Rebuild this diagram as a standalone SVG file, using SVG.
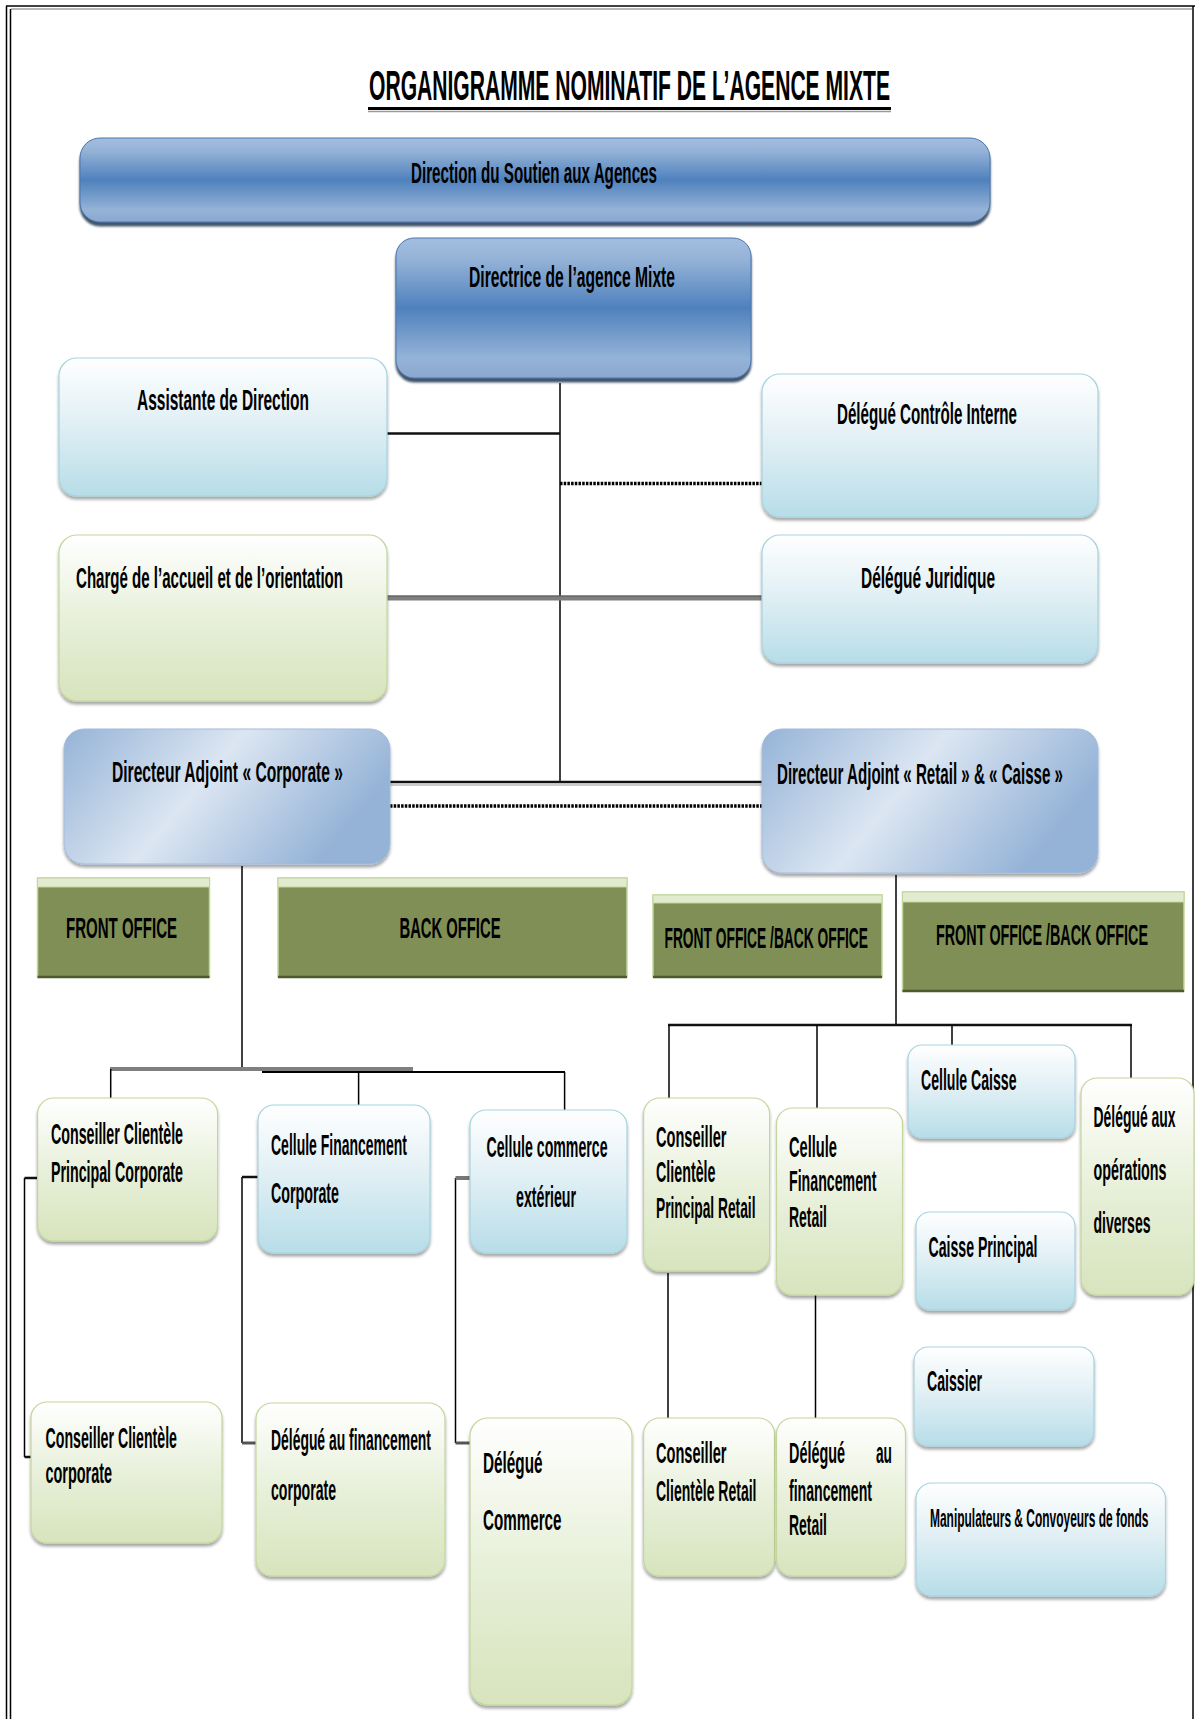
<svg xmlns="http://www.w3.org/2000/svg" width="1195" height="1719" viewBox="0 0 1195 1719">
  <style>
    text { font-family: "Liberation Sans", Arial, sans-serif; font-weight: bold; fill: #000; }
    .t30 { font-size: 30px; }
    .t29 { font-size: 29px; }
    .t25 { font-size: 25px; }
    .dark { fill: url(#gDark); stroke: #4a76ab; stroke-width: 1; }
    .blue { fill: url(#gBlue); stroke: #a6d3e0; stroke-width: 1.2; }
    .green { fill: url(#gGreen); stroke: #c3d69b; stroke-width: 1.2; }
    .adj { fill: url(#gAdj); stroke: #a3bbdb; stroke-width: 1; }
    .office { fill: #7f8f55; stroke: #c3d69b; stroke-width: 1.5; }
    .officeTop { fill: #e2ebd0; stroke: #c3d69b; stroke-width: 1; }
    .officeBot { stroke: #4d5a2c; stroke-width: 2.5; }
    .ln { stroke: #000; stroke-width: 1.5; fill: none; }
    .thk { stroke: #111; stroke-width: 2.5; fill: none; }
    .gry { stroke: #7f7f7f; stroke-width: 5; fill: none; }
    .dot { stroke: #000; stroke-width: 3.5; stroke-dasharray: 2.5 1.2; fill: none; }
    .frame { stroke: #000; stroke-width: 1.5; fill: none; }
  </style>
  <defs>
    <linearGradient id="gDark" x1="0" y1="0" x2="0" y2="1">
      <stop offset="0" stop-color="#a3bde0"/>
      <stop offset="0.15" stop-color="#95b3d7"/>
      <stop offset="0.5" stop-color="#4f81bd"/>
      <stop offset="0.86" stop-color="#95b3d7"/>
      <stop offset="1" stop-color="#8aa8d0"/>
    </linearGradient>
    <linearGradient id="gBlue" x1="0" y1="0" x2="0" y2="1">
      <stop offset="0" stop-color="#ffffff"/>
      <stop offset="0.45" stop-color="#e2f0f5"/>
      <stop offset="1" stop-color="#b7dde8"/>
    </linearGradient>
    <linearGradient id="gGreen" x1="0" y1="0" x2="0" y2="1">
      <stop offset="0" stop-color="#ffffff"/>
      <stop offset="0.5" stop-color="#e8f0da"/>
      <stop offset="1" stop-color="#d7e4bd"/>
    </linearGradient>
    <linearGradient id="gAdj" x1="0" y1="0" x2="1" y2="0.35">
      <stop offset="0" stop-color="#95b3d7"/>
      <stop offset="0.5" stop-color="#dce6f2"/>
      <stop offset="1" stop-color="#95b3d7"/>
    </linearGradient>
    <filter id="sh" x="-5%" y="-5%" width="110%" height="120%">
      <feDropShadow dx="0" dy="3" stdDeviation="1.5" flood-color="#000" flood-opacity="0.35"/>
    </filter>
    <filter id="shDark" x="-5%" y="-5%" width="110%" height="125%">
      <feDropShadow dx="0" dy="4" stdDeviation="1.2" flood-color="#1f3550" flood-opacity="0.85"/>
    </filter>
  </defs>

  <rect width="1195" height="1719" fill="#fff"/>

  <!-- page frame -->
  <g id="frame">
    <line class="frame" x1="6" y1="6" x2="1195" y2="6" stroke-width="2"/>
    <line x1="11" y1="9" x2="1192" y2="9" stroke="#a0a0a0" stroke-width="1.5"/>
    <line class="frame" x1="6.5" y1="6" x2="6.5" y2="1719"/>
    <line class="frame" x1="10.5" y1="9" x2="10.5" y2="1719"/>
    <line class="frame" x1="1193" y1="6" x2="1193" y2="1719"/>
  </g>

  <!-- title (condensed lettering: half-width scale) -->
  <g id="title">
    <text transform="translate(369 100) scale(0.5 1)" font-size="42" textLength="1042" lengthAdjust="spacingAndGlyphs">ORGANIGRAMME NOMINATIF DE L’AGENCE MIXTE</text>
    <line x1="368" y1="108.5" x2="891" y2="108.5" stroke="#000" stroke-width="3"/>
    <line x1="368" y1="111.5" x2="891" y2="111.5" stroke="#9a9a9a" stroke-width="1.5"/>
  </g>

  <!-- connectors -->
  <g id="connectors">
    <line class="ln" x1="560" y1="383" x2="560" y2="783"/>
    <line class="thk" x1="387" y1="433.5" x2="560" y2="433.5"/>
    <line class="dot" x1="560" y1="483.5" x2="762" y2="483.5"/>
    <line class="gry" x1="387" y1="598" x2="762" y2="598"/>
    <line x1="387" y1="596" x2="762" y2="596" stroke="#5a5a5a" stroke-width="1"/>
    <line class="thk" x1="390" y1="782" x2="762" y2="782"/>
    <line x1="390" y1="785" x2="762" y2="785" stroke="#9a9a9a" stroke-width="1.2"/>
    <line class="dot" x1="390" y1="806" x2="762" y2="806"/>

    <!-- corporate branch -->
    <line class="ln" x1="242" y1="866" x2="242" y2="1070"/>
    <line x1="110" y1="1069" x2="413" y2="1069" stroke="#7f7f7f" stroke-width="4"/>
    <line x1="262" y1="1072" x2="565" y2="1072" stroke="#000" stroke-width="2"/>
    <line class="ln" x1="110.7" y1="1069" x2="110.7" y2="1098"/>
    <line class="ln" x1="358.6" y1="1072" x2="358.6" y2="1105"/>
    <line class="ln" x1="564.6" y1="1072" x2="564.6" y2="1110"/>

    <line class="ln" x1="24.5" y1="1178" x2="24.5" y2="1457"/>
    <line class="thk" x1="24.5" y1="1178" x2="37.6" y2="1178"/>
    <line class="thk" x1="24.5" y1="1457" x2="31" y2="1457"/>
    <line class="ln" x1="242" y1="1177" x2="242" y2="1443"/>
    <line class="thk" x1="242" y1="1177" x2="258" y2="1177"/>
    <line x1="242" y1="1443" x2="256" y2="1443" stroke="#555" stroke-width="3"/>
    <line class="ln" x1="455.5" y1="1178" x2="455.5" y2="1443"/>
    <line x1="455.5" y1="1178" x2="470" y2="1178" stroke="#777" stroke-width="4"/>
    <line x1="455.5" y1="1443" x2="470" y2="1443" stroke="#555" stroke-width="3"/>

    <!-- retail branch -->
    <line class="ln" x1="896" y1="875" x2="896" y2="1025"/>
    <line class="thk" x1="668" y1="1025" x2="1132" y2="1025"/>
    <line class="ln" x1="669" y1="1025" x2="669" y2="1098"/>
    <line class="ln" x1="817" y1="1025" x2="817" y2="1108"/>
    <line class="ln" x1="952" y1="1025" x2="952" y2="1045"/>
    <line class="ln" x1="1131" y1="1025" x2="1131" y2="1078"/>
    <line class="ln" x1="668" y1="1273" x2="668" y2="1418"/>
    <line class="ln" x1="815.5" y1="1290" x2="815.5" y2="1418"/>
  </g>

  <!-- top management -->
  <g id="n-direction-soutien">
    <rect class="dark" x="80" y="138" width="910" height="84" rx="20" filter="url(#shDark)"/>
    <text class="t30" transform="translate(411 183) scale(0.5 1)" textLength="492" lengthAdjust="spacingAndGlyphs">Direction du Soutien aux Agences</text>
  </g>
  <g id="n-directrice">
    <rect class="dark" x="396" y="238" width="355" height="140" rx="18" filter="url(#shDark)"/>
    <text class="t30" transform="translate(469 287) scale(0.5 1)" textLength="412" lengthAdjust="spacingAndGlyphs">Directrice de l’agence Mixte</text>
  </g>
  <g id="n-assistante">
    <rect class="blue" x="59" y="358" width="328" height="138" rx="18" filter="url(#sh)"/>
    <text class="t30" transform="translate(137 410) scale(0.5 1)" textLength="344" lengthAdjust="spacingAndGlyphs">Assistante de Direction</text>
  </g>
  <g id="n-controle">
    <rect class="blue" x="762" y="374" width="336" height="143" rx="18" filter="url(#sh)"/>
    <text class="t30" transform="translate(837 424) scale(0.5 1)" textLength="360" lengthAdjust="spacingAndGlyphs">Délégué Contrôle Interne</text>
  </g>
  <g id="n-accueil">
    <rect class="green" x="59" y="535" width="328" height="166" rx="18" filter="url(#sh)"/>
    <text class="t30" transform="translate(76 588) scale(0.5 1)" textLength="534" lengthAdjust="spacingAndGlyphs">Chargé de l’accueil et de l’orientation</text>
  </g>
  <g id="n-juridique">
    <rect class="blue" x="762" y="535" width="336" height="128" rx="18" filter="url(#sh)"/>
    <text class="t30" transform="translate(861 588) scale(0.5 1)" textLength="268" lengthAdjust="spacingAndGlyphs">Délégué Juridique</text>
  </g>
  <g id="n-adj-corporate">
    <rect class="adj" x="64" y="729" width="326" height="135" rx="20" filter="url(#sh)"/>
    <text class="t30" transform="translate(112 781.5) scale(0.5 1)" textLength="462" lengthAdjust="spacingAndGlyphs">Directeur Adjoint  « Corporate »</text>
  </g>
  <g id="n-adj-retail">
    <rect class="adj" x="762" y="729" width="336" height="144" rx="20" filter="url(#sh)"/>
    <text class="t30" transform="translate(777 784) scale(0.5 1)" textLength="572" lengthAdjust="spacingAndGlyphs">Directeur Adjoint « Retail » &amp; « Caisse »</text>
  </g>

  <!-- office bands -->
  <g id="n-front-office">
    <rect class="office" x="37.5" y="878" width="172" height="99"/>
    <rect class="officeTop" x="37.5" y="878" width="172" height="9"/>
    <line class="officeBot" x1="37.5" y1="977" x2="209.5" y2="977"/>
    <text class="t30" transform="translate(66 938) scale(0.5 1)" textLength="222" lengthAdjust="spacingAndGlyphs">FRONT OFFICE</text>
  </g>
  <g id="n-back-office">
    <rect class="office" x="278" y="878" width="349" height="99"/>
    <rect class="officeTop" x="278" y="878" width="349" height="9"/>
    <line class="officeBot" x1="278" y1="977" x2="627" y2="977"/>
    <text class="t30" transform="translate(399.5 938) scale(0.5 1)" textLength="202" lengthAdjust="spacingAndGlyphs">BACK OFFICE</text>
  </g>
  <g id="n-fobo-1">
    <rect class="office" x="653" y="895" width="229" height="82"/>
    <rect class="officeTop" x="653" y="895" width="229" height="8"/>
    <line class="officeBot" x1="653" y1="977" x2="882" y2="977"/>
    <text class="t29" transform="translate(664.5 947.5) scale(0.5 1)" textLength="407" lengthAdjust="spacingAndGlyphs">FRONT OFFICE /BACK OFFICE</text>
  </g>
  <g id="n-fobo-2">
    <rect class="office" x="902.5" y="892" width="281.5" height="99"/>
    <rect class="officeTop" x="902.5" y="892" width="281.5" height="10"/>
    <line class="officeBot" x1="902.5" y1="991" x2="1184" y2="991"/>
    <text class="t30" transform="translate(936 944.5) scale(0.5 1)" textLength="424" lengthAdjust="spacingAndGlyphs">FRONT OFFICE /BACK OFFICE</text>
  </g>

  <!-- corporate teams -->
  <g id="n-ccp-corporate">
    <rect class="green" x="37.6" y="1098" width="180" height="143" rx="16" filter="url(#sh)"/>
    <text class="t29" transform="translate(51 1144) scale(0.5 1)" textLength="264" lengthAdjust="spacingAndGlyphs">Conseiller Clientèle</text>
    <text class="t29" transform="translate(51 1182) scale(0.5 1)" textLength="264" lengthAdjust="spacingAndGlyphs">Principal Corporate</text>
  </g>
  <g id="n-cf-corporate">
    <rect class="blue" x="258" y="1105" width="172" height="148" rx="16" filter="url(#sh)"/>
    <text class="t29" transform="translate(271 1154.5) scale(0.5 1)" textLength="272" lengthAdjust="spacingAndGlyphs">Cellule Financement</text>
    <text class="t29" transform="translate(271 1203) scale(0.5 1)" textLength="136" lengthAdjust="spacingAndGlyphs">Corporate</text>
  </g>
  <g id="n-cce">
    <rect class="blue" x="470" y="1110" width="157" height="143" rx="16" filter="url(#sh)"/>
    <text class="t29" transform="translate(486.5 1156.5) scale(0.5 1)" textLength="242" lengthAdjust="spacingAndGlyphs">Cellule commerce</text>
    <text class="t29" transform="translate(516 1206.5) scale(0.5 1)" textLength="120" lengthAdjust="spacingAndGlyphs">extérieur</text>
  </g>
  <g id="n-cc-corporate">
    <rect class="green" x="31" y="1402" width="191" height="141" rx="16" filter="url(#sh)"/>
    <text class="t29" transform="translate(45.5 1448) scale(0.5 1)" textLength="263" lengthAdjust="spacingAndGlyphs">Conseiller Clientèle</text>
    <text class="t29" transform="translate(45.5 1483) scale(0.5 1)" textLength="133" lengthAdjust="spacingAndGlyphs">corporate</text>
  </g>
  <g id="n-df-corporate">
    <rect class="green" x="256" y="1403" width="189" height="173" rx="16" filter="url(#sh)"/>
    <text class="t29" transform="translate(271 1450) scale(0.5 1)" textLength="320" lengthAdjust="spacingAndGlyphs">Délégué au financement</text>
    <text class="t29" transform="translate(271 1500) scale(0.5 1)" textLength="130" lengthAdjust="spacingAndGlyphs">corporate</text>
  </g>
  <g id="n-delegue-commerce">
    <rect class="green" x="470" y="1418" width="162" height="287" rx="18" filter="url(#sh)"/>
    <text class="t29" transform="translate(483 1473) scale(0.5 1)" textLength="119" lengthAdjust="spacingAndGlyphs">Délégué</text>
    <text class="t29" transform="translate(483 1530) scale(0.5 1)" textLength="157" lengthAdjust="spacingAndGlyphs">Commerce</text>
  </g>

  <!-- retail teams -->
  <g id="n-ccp-retail">
    <rect class="green" x="643.6" y="1098" width="126" height="173" rx="16" filter="url(#sh)"/>
    <text class="t29" transform="translate(656 1146.5) scale(0.5 1)" textLength="141" lengthAdjust="spacingAndGlyphs">Conseiller</text>
    <text class="t29" transform="translate(656 1181.5) scale(0.5 1)" textLength="119" lengthAdjust="spacingAndGlyphs">Clientèle</text>
    <text class="t29" transform="translate(656 1218) scale(0.5 1)" textLength="199" lengthAdjust="spacingAndGlyphs">Principal Retail</text>
  </g>
  <g id="n-cf-retail">
    <rect class="green" x="776.5" y="1108" width="126" height="187" rx="16" filter="url(#sh)"/>
    <text class="t29" transform="translate(789 1156.5) scale(0.5 1)" textLength="96" lengthAdjust="spacingAndGlyphs">Cellule</text>
    <text class="t29" transform="translate(789 1190.5) scale(0.5 1)" textLength="175" lengthAdjust="spacingAndGlyphs">Financement</text>
    <text class="t29" transform="translate(789 1227) scale(0.5 1)" textLength="76" lengthAdjust="spacingAndGlyphs">Retail</text>
  </g>
  <g id="n-cellule-caisse">
    <rect class="blue" x="908" y="1045" width="167" height="93" rx="14" filter="url(#sh)"/>
    <text class="t29" transform="translate(921 1090) scale(0.5 1)" textLength="191" lengthAdjust="spacingAndGlyphs">Cellule Caisse</text>
  </g>
  <g id="n-operations">
    <rect class="green" x="1081" y="1078" width="113" height="217" rx="16" filter="url(#sh)"/>
    <text class="t29" transform="translate(1093.5 1126.5) scale(0.5 1)" textLength="164" lengthAdjust="spacingAndGlyphs">Délégué aux</text>
    <text class="t29" transform="translate(1093.5 1180) scale(0.5 1)" textLength="146" lengthAdjust="spacingAndGlyphs">opérations</text>
    <text class="t29" transform="translate(1093.5 1233) scale(0.5 1)" textLength="114" lengthAdjust="spacingAndGlyphs">diverses</text>
  </g>
  <g id="n-caisse-principal">
    <rect class="blue" x="916" y="1212" width="159" height="98" rx="14" filter="url(#sh)"/>
    <text class="t29" transform="translate(928.5 1257) scale(0.5 1)" textLength="218" lengthAdjust="spacingAndGlyphs">Caisse Principal</text>
  </g>
  <g id="n-cc-retail">
    <rect class="green" x="643.6" y="1418" width="131" height="158" rx="16" filter="url(#sh)"/>
    <text class="t29" transform="translate(656 1463) scale(0.5 1)" textLength="141" lengthAdjust="spacingAndGlyphs">Conseiller</text>
    <text class="t29" transform="translate(656 1500.5) scale(0.5 1)" textLength="201" lengthAdjust="spacingAndGlyphs">Clientèle Retail</text>
  </g>
  <g id="n-df-retail">
    <rect class="green" x="776.5" y="1418" width="129" height="158" rx="16" filter="url(#sh)"/>
    <text class="t29" transform="translate(789 1463) scale(0.5 1)" textLength="112" lengthAdjust="spacingAndGlyphs">Délégué</text>
    <text class="t29" transform="translate(876 1463) scale(0.5 1)" textLength="32" lengthAdjust="spacingAndGlyphs">au</text>
    <text class="t29" transform="translate(789 1500.5) scale(0.5 1)" textLength="166" lengthAdjust="spacingAndGlyphs">financement</text>
    <text class="t29" transform="translate(789 1535) scale(0.5 1)" textLength="76" lengthAdjust="spacingAndGlyphs">Retail</text>
  </g>
  <g id="n-caissier">
    <rect class="blue" x="914" y="1347" width="180" height="99" rx="14" filter="url(#sh)"/>
    <text class="t29" transform="translate(927 1390.5) scale(0.5 1)" textLength="110" lengthAdjust="spacingAndGlyphs">Caissier</text>
  </g>
  <g id="n-manipulateurs">
    <rect class="blue" x="916" y="1483" width="249.5" height="113" rx="16" filter="url(#sh)"/>
    <text class="t25" transform="translate(930 1526.5) scale(0.5 1)" textLength="437" lengthAdjust="spacingAndGlyphs">Manipulateurs &amp; Convoyeurs  de fonds</text>
  </g>
</svg>
